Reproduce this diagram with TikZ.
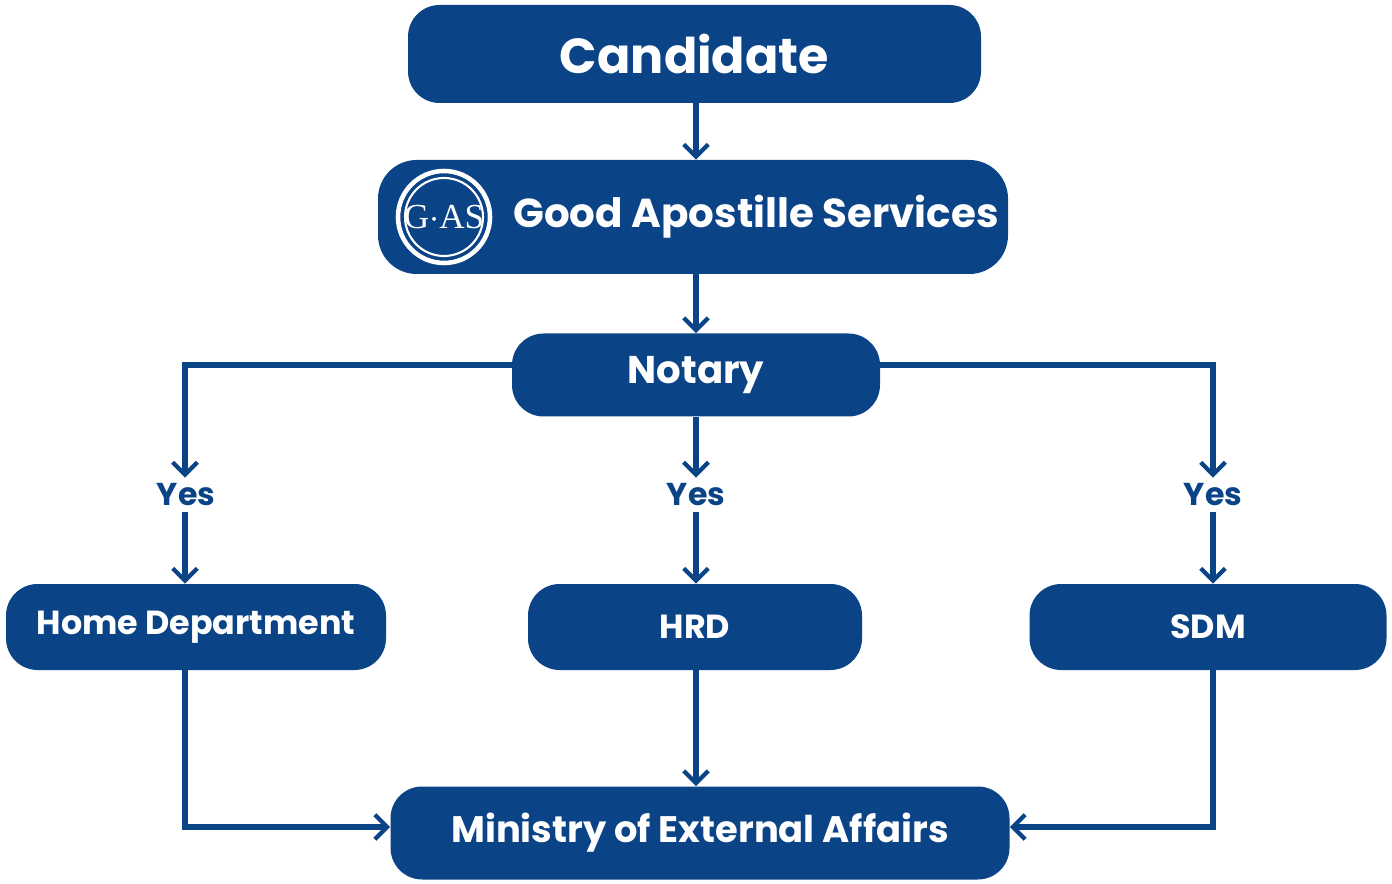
\documentclass[tikz,border=0pt]{standalone}
\usepackage{fontspec}
\setmainfont{Poppins}
\newfontfamily\logofont{Liberation Serif}
\usetikzlibrary{arrows.meta}
\definecolor{gasblue}{HTML}{0B4387}

\tikzset{
  box/.style = {fill=gasblue, text=white, rounded corners=18pt, inner sep=0pt, font=\bfseries},
  link/.style = {draw=gasblue, line width=3.4pt, -{Straight Barb[length=7pt,width=14pt,line width=2.4pt]}},
  yes/.style = {text=gasblue, font=\bfseries\fontsize{18}{20}\selectfont}
}

\begin{document}
\begin{tikzpicture}[x=0.02cm,y=-0.02cm]
\useasboundingbox (0,0) rectangle (1392,884);
%---boxes-------------------------------------------
\node[box, minimum width=573*0.02cm, minimum height=98*0.02cm, font=\bfseries\fontsize{28}{30}\selectfont] (cand) at (694.5,54) {Candidate};
\node[box, rounded corners=22pt, minimum width=630*0.02cm, minimum height=114*0.02cm] (gas) at (693,217) {};
\node[text=white, font=\bfseries\fontsize{23}{25}\selectfont, anchor=west] (gastext) at (507,217) {Good Apostille Services};
\node[box, minimum width=368*0.02cm, minimum height=83*0.02cm, font=\bfseries\fontsize{22}{24}\selectfont] (notary) at (696,375) {Notary};
\node[box, minimum width=380*0.02cm, minimum height=86*0.02cm, font=\bfseries\fontsize{19}{21}\selectfont] (home) at (196,627) {Home Department};
\node[box, minimum width=334*0.02cm, minimum height=86*0.02cm, font=\bfseries\fontsize{19}{21}\selectfont] (hrd) at (695,627) {HRD};
\node[box, minimum width=357*0.02cm, minimum height=86*0.02cm, font=\bfseries\fontsize{19}{21}\selectfont] (sdm) at (1208,627) {SDM};
\node[box, minimum width=619*0.02cm, minimum height=93*0.02cm, font=\bfseries\fontsize{21}{23}\selectfont] (mea) at (700,833) {Ministry of External Affairs};
%---logo--------------------------------------------
\draw[white, line width=2.6pt] (444,217) circle (46);
\draw[white, line width=1.2pt] (444,217) circle (39);
\node[text=white, font=\logofont\fontsize{20}{22}\selectfont] (logo) at (444,217) {G$\cdot$AS};
%---yes labels--------------------------------------
\node[yes] (yesl) at (186,495) {Yes};
\node[yes] (yesc) at (696,495) {Yes};
\node[yes] (yesr) at (1213,495) {Yes};
%---bends-------------------------------------------
\coordinate (mid) at (696,0);
\coordinate (nl) at (185,365);
\coordinate (nr) at (1213,365);
\coordinate (hb) at (185,827);
\coordinate (sb) at (1213,827);
%---connectors--------------------------------------
\draw[link] (cand.south -| mid) -- (gas.north -| mid);
\draw[link] (gas.south -| mid) -- (notary.north -| mid);
\draw[link] (notary.west |- nl) -- (nl) -- (yesl.north -| nl);
\draw[link] (notary.east |- nr) -- (nr) -- (yesr.north -| nr);
\draw[link] (notary.south -| mid) -- (yesc.north -| mid);
\draw[link] (yesl.south -| nl) -- (home.north -| nl);
\draw[link] (yesc.south -| mid) -- (hrd.north -| mid);
\draw[link] (yesr.south -| nr) -- (sdm.north -| nr);
\draw[link] (home.south -| hb) -- (hb) -- (hb -| mea.west);
\draw[link] (sdm.south -| sb) -- (sb) -- (sb -| mea.east);
\draw[link] (hrd.south -| mid) -- (mea.north -| mid);
\end{tikzpicture}
\end{document}
